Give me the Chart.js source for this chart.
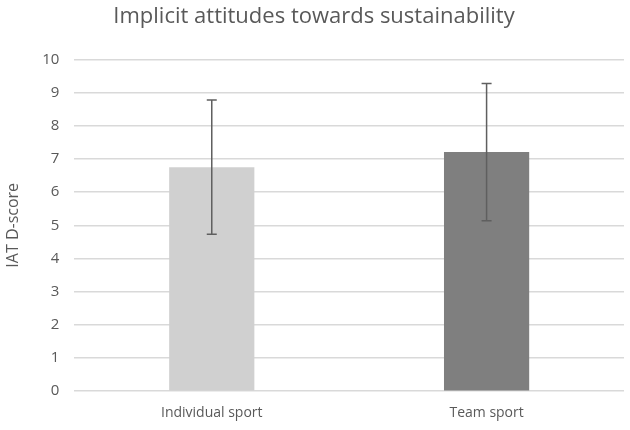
<!DOCTYPE html>
<html>
<head>
<meta charset="utf-8">
<script src="https://cdn.jsdelivr.net/npm/chart.js@4"></script>
<style>
  html, body { margin: 0; padding: 0; background: #fff; }
  #wrap { width: 630px; height: 430px; }
</style>
</head>
<body>
<div id="wrap"><canvas id="c"></canvas></div>
<script>
// Bar chart with error bars, Excel-like styling.
const categories = ['Individual sport', 'Team sport'];
const means = [6.75, 7.21];
const errLow = [4.73, 5.14];
const errHigh = [8.78, 9.27];
const barColors = ['#d0d0d0', '#7f7f7f'];
const yTicks = [0, 1, 2, 3, 4, 5, 6, 7, 8, 9, 10];

const textColor = '#595959';
const gridColor = '#d9d9d9';
const fontFam = '"Open Sans", Lato, sans-serif';

const errorBars = {
  id: 'errorBars',
  afterDatasetsDraw(chart) {
    const { ctx, scales: { y } } = chart;
    const meta = chart.getDatasetMeta(0);
    ctx.save();
    ctx.strokeStyle = '#5f5f5f';
    ctx.lineWidth = 1.5;
    meta.data.forEach((bar, i) => {
      const x = bar.x;
      const top = y.getPixelForValue(errHigh[i]);
      const bot = y.getPixelForValue(errLow[i]);
      ctx.beginPath();
      ctx.moveTo(x, top); ctx.lineTo(x, bot);
      ctx.moveTo(x - 5, top); ctx.lineTo(x + 5, top);
      ctx.moveTo(x - 5, bot); ctx.lineTo(x + 5, bot);
      ctx.stroke();
    });
    ctx.restore();
  },
};

new Chart(document.getElementById('c'), {
  type: 'bar',
  data: {
    labels: categories,
    datasets: [{
      data: means,
      backgroundColor: barColors,
      borderWidth: 0,
      categoryPercentage: 0.62,
      barPercentage: 0.5,
    }],
  },
  options: {
    responsive: true,
    maintainAspectRatio: false,
    animation: false,
    layout: { padding: { left: 4, right: 6, top: 4, bottom: 4 } },
    plugins: {
      legend: { display: false },
      tooltip: { enabled: false },
      title: {
        display: true,
        text: 'Implicit attitudes towards sustainability',
        color: textColor,
        font: { family: fontFam, size: 22, weight: 'normal' },
        padding: { top: 0, bottom: 29 },
      },
    },
    scales: {
      x: {
        grid: { display: false },
        border: { display: false },
        ticks: { color: textColor, font: { family: fontFam, size: 14 }, padding: 5 },
      },
      y: {
        min: 0, max: 10,
        afterBuildTicks: (axis) => { axis.ticks = yTicks.map((v) => ({ value: v })); },
        grid: { color: gridColor, lineWidth: 1.5, drawTicks: false },
        border: { display: false },
        ticks: { color: textColor, font: { family: fontFam, size: 15 }, padding: 15 },
        title: {
          display: true,
          text: 'IAT D-score',
          color: textColor,
          font: { family: fontFam, size: 16 },
          padding: { top: 0, bottom: 4 },
        },
      },
    },
  },
  plugins: [errorBars],
});
</script>
</body>
</html>
